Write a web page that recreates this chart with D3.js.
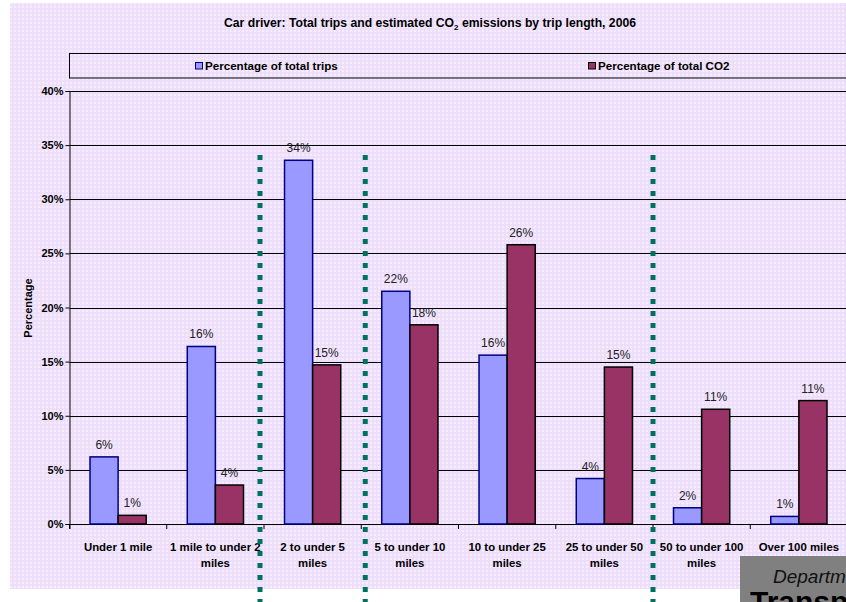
<!DOCTYPE html>
<html>
<head>
<meta charset="utf-8">
<script src="https://cdn.jsdelivr.net/npm/d3@7"></script>
<style>
  body { margin: 0; background: #fff; }
  svg text { font-family: "Liberation Sans", Arial, sans-serif; }
</style>
</head>
<body>
<div id="chart"></div>
<script>
// data
var categories = ["Under 1 mile", "1 mile to under 2 miles", "2 to under 5 miles",
  "5 to under 10 miles", "10 to under 25 miles", "25 to under 50 miles",
  "50 to under 100 miles", "Over 100 miles"];
var catLines = [["Under 1 mile"], ["1 mile to under 2", "miles"], ["2 to under 5", "miles"],
  ["5 to under 10", "miles"], ["10 to under 25", "miles"], ["25 to under 50", "miles"],
  ["50 to under 100", "miles"], ["Over 100 miles"]];
var tripsPct = [6.2, 16.4, 33.6, 21.5, 15.6, 4.2, 1.5, 0.7];
var co2Pct = [0.8, 3.6, 14.7, 18.4, 25.8, 14.5, 10.6, 11.4];
var seriesNames = ["Percentage of total trips", "Percentage of total CO2"];
var yTicks = [0, 5, 10, 15, 20, 25, 30, 35, 40];
var dividerBefore = [2, 3, 6]; // dotted green lines sit before these categories
var dividerShift = [-4, 4, 0];

var colors = ["#9999ff", "#993366"];
var strokes = ["#000080", "#000000"];

var W = 846, H = 602;
var margin = {top: 91, right: 0, bottom: 78, left: 69.5};
var width = 847.5 - margin.left,
    height = 524 - margin.top;

var svg = d3.select("#chart").append("svg")
  .attr("width", W).attr("height", H);

// lavender check background
var defs = svg.append("defs");
var pat = defs.append("pattern")
  .attr("id", "check").attr("width", 4).attr("height", 4)
  .attr("patternUnits", "userSpaceOnUse");
pat.append("rect").attr("width", 4).attr("height", 4).attr("fill", "#f6ecfd");
pat.append("rect").attr("width", 4).attr("height", 2).attr("fill", "#ecdcfa").attr("opacity", 0.7);
pat.append("rect").attr("width", 2).attr("height", 4).attr("fill", "#ecdcfa").attr("opacity", 0.7);

svg.append("rect")
  .attr("x", 10).attr("y", 3).attr("width", W - 10).attr("height", 586)
  .attr("fill", "url(#check)");

// title
var title = svg.append("text")
  .attr("x", 430).attr("y", 27)
  .attr("text-anchor", "middle")
  .style("font-size", "12.2px").style("font-weight", "bold")
  .attr("fill", "#000");
title.append("tspan").text("Car driver: Total trips and estimated CO");
title.append("tspan").attr("dy", 3).style("font-size", "8px").text("2");
title.append("tspan").attr("dy", -3).text(" emissions by trip length, 2006");

// legend box
svg.append("rect")
  .attr("x", 69.5).attr("y", 53.5).attr("width", W).attr("height", 24.5)
  .attr("fill", "none").attr("stroke", "#000").attr("stroke-width", 1);
var legendX = [195, 588];
seriesNames.forEach(function(name, i) {
  svg.append("rect")
    .attr("x", legendX[i] + 0.5).attr("y", 62.5).attr("width", 7).attr("height", 6.5)
    .attr("fill", colors[i]).attr("stroke", strokes[i]).attr("stroke-width", 1);
  svg.append("text")
    .attr("x", legendX[i] + 10).attr("y", 69.5)
    .style("font-size", "11.6px").style("font-weight", "bold")
    .text(name);
});

var g = svg.append("g")
  .attr("transform", "translate(" + margin.left + "," + margin.top + ")");

var x = d3.scaleBand().domain(categories).range([0, width]);
var x1 = d3.scaleBand().domain([0, 1]).range([0, x.bandwidth()]).paddingOuter(0.73).paddingInner(0);
var y = d3.scaleLinear().domain([0, 40]).range([height, 0]);

// grid lines
g.selectAll(".grid").data(yTicks.slice(1)).enter().append("line")
  .attr("x1", 0).attr("x2", W)
  .attr("y1", function(d) { return Math.round(y(d)) + 0.5; })
  .attr("y2", function(d) { return Math.round(y(d)) + 0.5; })
  .attr("stroke", "#000").attr("stroke-width", 1);

// y axis
var yAxis = d3.axisLeft(y).tickValues(yTicks)
  .tickFormat(function(d) { return d + "%"; }).tickSize(4).tickPadding(2);
var ya = g.append("g").call(yAxis);
ya.select(".domain").attr("stroke", "#000");
ya.selectAll("text").style("font-size", "11px").style("font-weight", "bold").attr("fill", "#000");

// y title
svg.append("text")
  .attr("transform", "translate(32,308) rotate(-90)")
  .attr("text-anchor", "middle")
  .style("font-size", "11px").style("font-weight", "bold")
  .text("Percentage");

// x axis
var xAxis = d3.axisBottom(x).tickSize(5).tickFormat("");
var xa = g.append("g").attr("transform", "translate(0," + height + ")").call(xAxis);
xa.select(".domain").attr("stroke", "#000");
xa.selectAll(".tick line")
  .attr("transform", function() { return "translate(" + (-x.bandwidth() / 2) + ",0)"; });

// x labels, two lines
catLines.forEach(function(lines, i) {
  var t = g.append("text")
    .attr("x", x(categories[i]) + x.bandwidth() / 2)
    .attr("y", height + 27)
    .attr("text-anchor", "middle")
    .style("font-size", "11.4px").style("font-weight", "bold");
  lines.forEach(function(l, j) {
    t.append("tspan").attr("x", x(categories[i]) + x.bandwidth() / 2)
      .attr("dy", j === 0 ? 0 : 16).text(l);
  });
});

// bars
var rows = categories.map(function(c, i) { return {cat: c, vals: [tripsPct[i], co2Pct[i]]}; });
var grp = g.selectAll(".cat").data(rows).enter().append("g")
  .attr("transform", function(d) { return "translate(" + x(d.cat) + ",0)"; });

grp.selectAll("rect").data(function(d) { return d.vals; }).enter().append("rect")
  .attr("x", function(d, i) { return x1(i); })
  .attr("y", function(d) { return y(d); })
  .attr("width", x1.bandwidth())
  .attr("height", function(d) { return height - y(d); })
  .attr("fill", function(d, i) { return colors[i]; })
  .attr("stroke", function(d, i) { return strokes[i]; })
  .attr("stroke-width", 1.5);

grp.selectAll(".lbl").data(function(d) { return d.vals; }).enter().append("text")
  .attr("x", function(d, i) { return x1(i) + x1.bandwidth() / 2; })
  .attr("y", function(d) { return y(d) - 8; })
  .attr("text-anchor", "middle")
  .style("font-size", "12px")
  .attr("fill", "#222")
  .text(function(d) { return Math.round(d) + "%"; });

// green dotted dividers
dividerBefore.forEach(function(idx, k) {
  var cx = margin.left + x(categories[idx]) + dividerShift[k];
  svg.append("line")
    .attr("x1", cx).attr("x2", cx)
    .attr("y1", 155).attr("y2", H)
    .attr("stroke", "#007060").attr("stroke-width", 5)
    .attr("stroke-dasharray", "5,7");
});

// cut-off logo in the corner
svg.append("rect")
  .attr("x", 740).attr("y", 556).attr("width", 106).attr("height", 46)
  .attr("fill", "#808080");
svg.append("text")
  .attr("x", 773).attr("y", 583)
  .style("font-size", "19px").style("font-style", "italic")
  .attr("fill", "#111").text("Departm");
svg.append("text")
  .attr("x", 750).attr("y", 612)
  .style("font-size", "30px").style("font-weight", "bold")
  .attr("fill", "#000").text("Transp");
</script>
</body>
</html>
